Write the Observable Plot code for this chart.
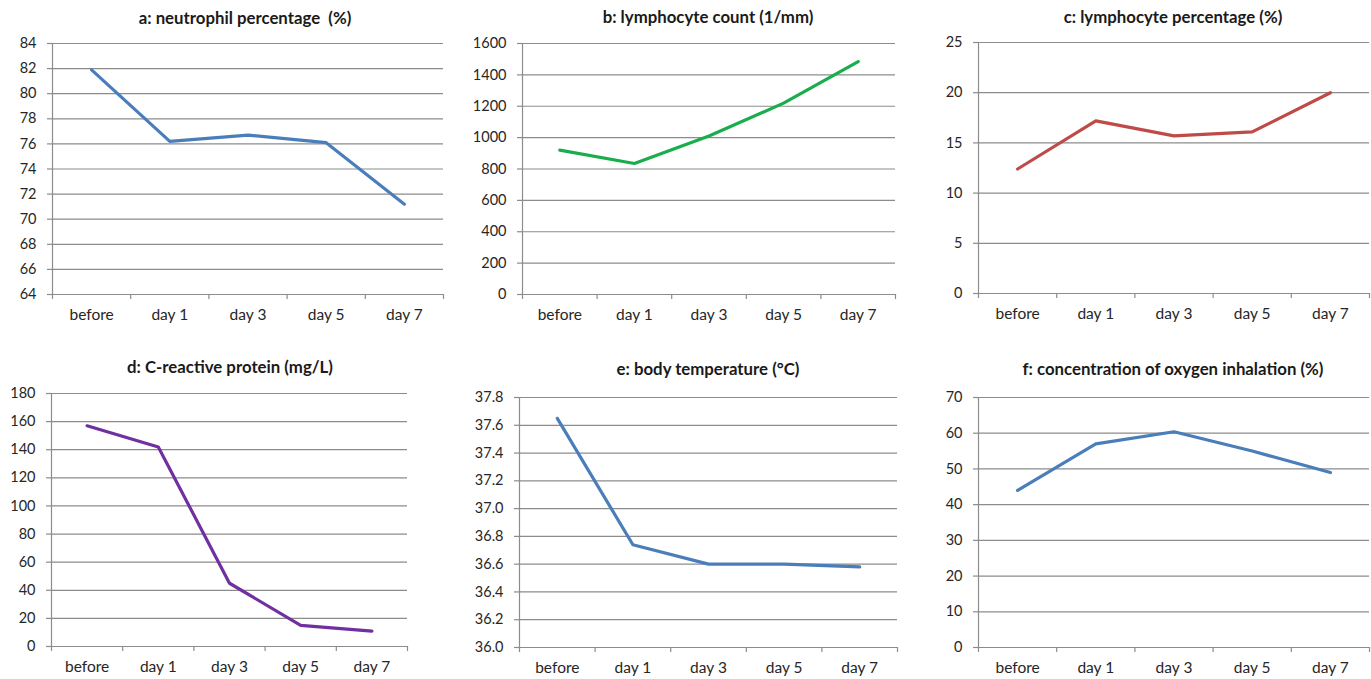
<!DOCTYPE html>
<html>
<head>
<meta charset="utf-8">
<script src="https://cdn.jsdelivr.net/npm/d3@7"></script>
<script src="https://cdn.jsdelivr.net/npm/@observablehq/plot@0.6"></script>
<style>
  html, body { margin: 0; padding: 0; background: #fff; }
  #root { position: relative; width: 1371px; height: 679px; overflow: hidden; font-family: Lato, "Open Sans", sans-serif; }
  .cell { position: absolute; }
  .cell svg { position: absolute; left: 0; top: 0; }
  .title { position: absolute; transform: translate(-50%, -50%); font-weight: bold; font-size: 16.8px; color: #1a1a1a; white-space: pre; }
</style>
</head>
<body>
<div id="root"></div>
<script>
// ---- data ----
const categories = ["before", "day 1", "day 3", "day 5", "day 7"];

const neutrophilPct = [81.9, 76.2, 76.7, 76.1, 71.2];
const lymphocyteCount = [920, 835, 1010, 1220, 1485];
const lymphocytePct = [12.4, 17.2, 15.7, 16.1, 20.0];
const crp = [157, 142, 45, 15, 11];
const bodyTemp = [37.65, 36.74, 36.60, 36.60, 36.58];
const oxygenPct = [44, 57, 60.4, 55, 49];

const titles = [
  "a: neutrophil percentage  (%)",
  "b: lymphocyte count (1/mm)",
  "c: lymphocyte percentage (%)",
  "d: C-reactive protein (mg/L)",
  "e: body temperature (°C)",
  "f: concentration of oxygen inhalation (%)"
];

const yTicksA = [64, 66, 68, 70, 72, 74, 76, 78, 80, 82, 84];
const yTicksB = [0, 200, 400, 600, 800, 1000, 1200, 1400, 1600];
const yTicksC = [0, 5, 10, 15, 20, 25];
const yTicksD = [0, 20, 40, 60, 80, 100, 120, 140, 160, 180];
const yTicksE = [36.0, 36.2, 36.4, 36.6, 36.8, 37.0, 37.2, 37.4, 37.6, 37.8];
const yTicksF = [0, 10, 20, 30, 40, 50, 60, 70];

// ---- layout ----
const panels = [
  {values: neutrophilPct, ticks: yTicksA, color: "#4a7ebb", fmt: d => String(d),
   left: 0, top: 0, w: 455, h: 340, mL: 52, mT: 43, mR: 12, mB: 46, tx: 245, ty: 17},
  {values: lymphocyteCount, ticks: yTicksB, color: "#1aad4c", fmt: d => String(d),
   left: 455, top: 0, w: 455, h: 340, mL: 67, mT: 43, mR: 15, mB: 46, tx: 708, ty: 16},
  {values: lymphocytePct, ticks: yTicksC, color: "#be4b48", fmt: d => String(d),
   left: 910, top: 0, w: 461, h: 340, mL: 68, mT: 42, mR: 2, mB: 47, tx: 1173, ty: 16},
  {values: crp, ticks: yTicksD, color: "#7030a0", fmt: d => String(d),
   left: 0, top: 340, w: 455, h: 339, mL: 51, mT: 53, mR: 48, mB: 33, tx: 230, ty: 366},
  {values: bodyTemp, ticks: yTicksE, color: "#4a7ebb", fmt: d => d.toFixed(1),
   left: 455, top: 340, w: 455, h: 339, mL: 64, mT: 57, mR: 13, mB: 32, tx: 708, ty: 368},
  {values: oxygenPct, ticks: yTicksF, color: "#4a7ebb", fmt: d => String(d),
   left: 910, top: 340, w: 461, h: 339, mL: 68, mT: 57, mR: 2, mB: 32, tx: 1173, ty: 368}
];

const root = document.getElementById("root");
const idx = categories.map((_, i) => i);
const bounds = d3.range(categories.length + 1).map(i => i - 0.5);
const gridColor = "#8c8c8c";
const textColor = "#262626";

panels.forEach((p, k) => {
  const data = categories.map((c, i) => ({i, category: c, value: p.values[i]}));
  const yDomain = [p.ticks[0], p.ticks[p.ticks.length - 1]];
  const chart = Plot.plot({
    width: p.w,
    height: p.h,
    marginLeft: p.mL, marginTop: p.mT, marginRight: p.mR, marginBottom: p.mB,
    style: {fontFamily: "Lato, 'Open Sans', sans-serif", fontSize: "15.5px", color: textColor, background: "transparent", overflow: "visible"},
    x: {type: "linear", domain: [-0.5, categories.length - 0.5]},
    y: {domain: yDomain},
    marks: [
      Plot.ruleY(p.ticks, {stroke: gridColor, strokeWidth: 1.2}),
      Plot.ruleX([-0.5], {stroke: gridColor, strokeWidth: 1.2}),
      Plot.axisY({ticks: p.ticks, tickFormat: () => "", tickSize: 5, stroke: gridColor, strokeWidth: 1.2, label: null}),
      Plot.axisY({ticks: p.ticks, tickFormat: p.fmt, tickSize: 0, tickPadding: 16, fill: textColor, fontSize: 14.5, label: null}),
      Plot.axisX({ticks: bounds, tickFormat: () => "", tickSize: 5, stroke: gridColor, strokeWidth: 1.2, label: null}),
      Plot.axisX({ticks: idx, tickFormat: i => categories[i], tickSize: 0, tickPadding: 14, fill: textColor, label: null}),
      Plot.line(data, {x: "i", y: "value", stroke: p.color, strokeWidth: 3.2, strokeLinejoin: "round", strokeLinecap: "round"})
    ]
  });
  const cell = document.createElement("div");
  cell.className = "cell";
  cell.style.left = p.left + "px";
  cell.style.top = p.top + "px";
  cell.style.width = p.w + "px";
  cell.style.height = p.h + "px";
  cell.appendChild(chart);
  root.appendChild(cell);

  const t = document.createElement("div");
  t.className = "title";
  t.style.left = p.tx + "px";
  t.style.top = p.ty + "px";
  t.textContent = titles[k];
  root.appendChild(t);
});
</script>
</body>
</html>
